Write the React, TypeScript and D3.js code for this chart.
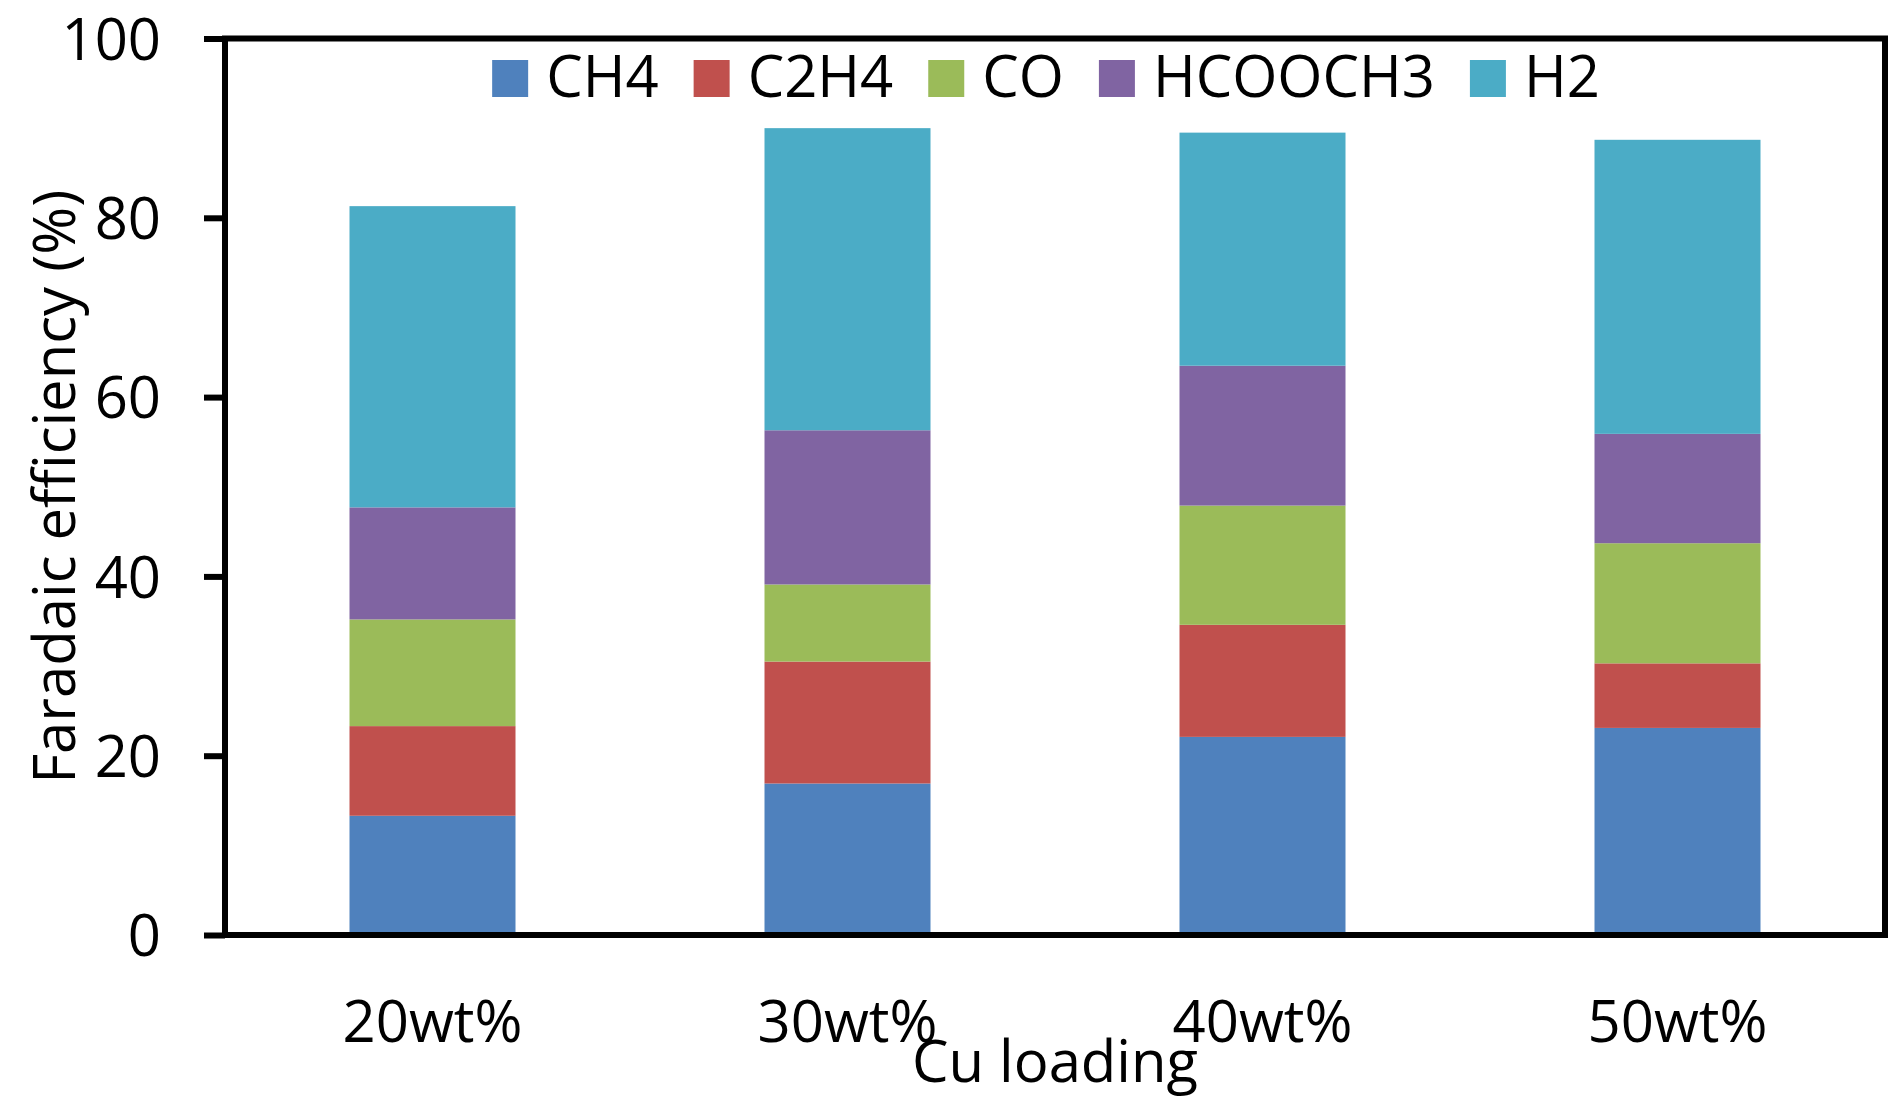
import { useRef, useEffect } from 'react';
import * as d3 from 'd3';

const categories = ['20wt%', '30wt%', '40wt%', '50wt%'];
const seriesNames = ['CH4', 'C2H4', 'CO', 'HCOOCH3', 'H2'];
const seriesColors = ['#4F81BD', '#C0504D', '#9BBB59', '#8064A2', '#4BACC6'];

// Faradaic efficiency (%) per product, one value per Cu loading
const ch4 = [13.3, 16.9, 22.1, 23.1];
const c2h4 = [10.0, 13.6, 12.5, 7.2];
const co = [11.9, 8.6, 13.3, 13.4];
const hcooch3 = [12.5, 17.2, 15.6, 12.2];
const h2 = [33.6, 33.7, 26.0, 32.8];

const yTicks = [0, 20, 40, 60, 80, 100];

const WIDTH = 1904;
const HEIGHT = 1104;
const FONT = "'Open Sans', sans-serif";
const FONT_SIZE = 58;

export default function App() {
  const svgRef = useRef<SVGSVGElement | null>(null);

  useEffect(() => {
    if (!svgRef.current) return;
    const svg = d3.select(svgRef.current);
    svg.selectAll('*').remove();

    const margin = { top: 38.5, right: 19, bottom: 169, left: 225 };
    const innerWidth = WIDTH - margin.left - margin.right;
    const innerHeight = HEIGHT - margin.top - margin.bottom;

    const rows = categories.map((cat, i) => ({
      cat,
      CH4: ch4[i],
      C2H4: c2h4[i],
      CO: co[i],
      HCOOCH3: hcooch3[i],
      H2: h2[i],
    }));

    const stacked = d3.stack<any>().keys(seriesNames)(rows);

    const x = d3
      .scaleBand()
      .domain(categories)
      .range([0, innerWidth])
      .paddingInner(0.6)
      .paddingOuter(0.3);

    const y = d3.scaleLinear().domain([0, 100]).range([innerHeight, 0]);

    const color = d3.scaleOrdinal<string>().domain(seriesNames).range(seriesColors);

    const g = svg
      .append('g')
      .attr('transform', `translate(${margin.left},${margin.top})`);

    // bars
    g.selectAll('g.series')
      .data(stacked)
      .join('g')
      .attr('class', 'series')
      .attr('fill', (d) => color(d.key))
      .selectAll('rect')
      .data((d) => d)
      .join('rect')
      .attr('x', (d) => x(d.data.cat)!)
      .attr('width', x.bandwidth())
      .attr('y', (d) => y(d[1]))
      .attr('height', (d) => y(d[0]) - y(d[1]));

    // y axis
    const yAxis = g
      .append('g')
      .call(d3.axisLeft(y).tickValues(yTicks).tickSize(21).tickPadding(43));
    yAxis.select('.domain').remove();
    yAxis.selectAll('line').attr('stroke', '#000').attr('stroke-width', 6);
    yAxis
      .selectAll('text')
      .attr('font-family', FONT)
      .attr('font-size', FONT_SIZE)
      .attr('fill', '#000')
      .attr('dy', '0.36em');

    // x axis labels
    const xAxis = g
      .append('g')
      .attr('transform', `translate(0,${innerHeight})`)
      .call(d3.axisBottom(x).tickSize(0).tickPadding(0));
    xAxis.select('.domain').remove();
    xAxis
      .selectAll('text')
      .attr('font-family', FONT)
      .attr('font-size', FONT_SIZE)
      .attr('fill', '#000')
      .attr('dy', 0)
      .attr('y', 107);

    // frame
    g.append('rect')
      .attr('x', 0)
      .attr('y', 0)
      .attr('width', innerWidth)
      .attr('height', innerHeight)
      .attr('fill', 'none')
      .attr('stroke', '#000')
      .attr('stroke-width', 6);

    // axis titles
    svg
      .append('text')
      .attr('x', margin.left + innerWidth / 2)
      .attr('y', 1082)
      .attr('text-anchor', 'middle')
      .attr('font-family', FONT)
      .attr('font-size', FONT_SIZE)
      .text('Cu loading');

    svg
      .append('text')
      .attr('transform', `translate(75,${margin.top + innerHeight / 2}) rotate(-90)`)
      .attr('text-anchor', 'middle')
      .attr('font-family', FONT)
      .attr('font-size', FONT_SIZE)
      .text('Faradaic efficiency (%)');

    // legend
    const legend = svg.append('g');
    let cursor = 0;
    seriesNames.forEach((name) => {
      const item = legend.append('g').attr('transform', `translate(${cursor},0)`);
      item
        .append('rect')
        .attr('x', 0)
        .attr('y', 60)
        .attr('width', 36)
        .attr('height', 37)
        .attr('fill', color(name));
      const t = item
        .append('text')
        .attr('x', 54)
        .attr('y', 97)
        .attr('font-family', FONT)
        .attr('font-size', FONT_SIZE)
        .text(name);
      const len = (t.node() as SVGTextElement).getComputedTextLength();
      cursor += 54 + len + 35;
    });
    const legendWidth = cursor - 35;
    legend.attr('transform', `translate(${1046 - legendWidth / 2},0)`);
  }, []);

  return (
    <svg
      ref={svgRef}
      width={WIDTH}
      height={HEIGHT}
      style={{ position: 'absolute', left: 0, top: 0, background: '#fff' }}
    />
  );
}
